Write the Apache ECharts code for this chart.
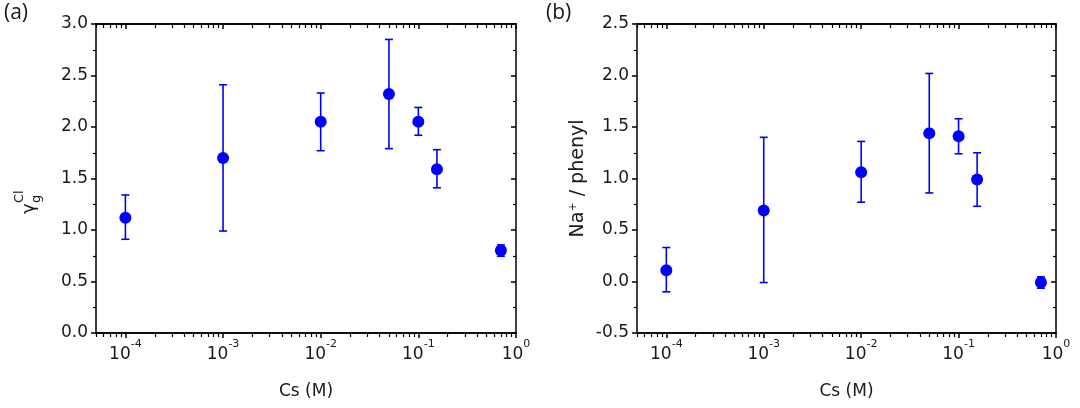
<!DOCTYPE html>
<html><head><meta charset="utf-8">
<script src="https://cdn.jsdelivr.net/npm/echarts@6/dist/echarts.min.js"></script>
<style>html,body{margin:0;padding:0;background:#fff}#c{width:1080px;height:408px}</style>
</head><body><div id="c"></div>
<script>
// ---- data ----
const cs = [1e-4, 1e-3, 1e-2, 0.05, 0.1, 0.155, 0.7];
const gammaVal = [1.12, 1.70, 2.05, 2.32, 2.05, 1.59, 0.80];
const gammaLo  = [0.91, 0.99, 1.77, 1.79, 1.92, 1.41, 0.745];
const gammaHi  = [1.34, 2.41, 2.33, 2.85, 2.19, 1.78, 0.855];
const naVal = [0.11, 0.69, 1.06, 1.44, 1.41, 0.99, -0.01];
const naLo  = [-0.10, -0.01, 0.77, 0.86, 1.24, 0.73, -0.065];
const naHi  = [0.33, 1.40, 1.36, 2.02, 1.58, 1.25, 0.045];
const xMajorTicks = [1e-4, 1e-3, 1e-2, 1e-1, 1];
const xMinorTicks = [5e-5, 6e-5, 7e-5, 8e-5, 9e-5,
  2e-4, 3e-4, 4e-4, 5e-4, 6e-4, 7e-4, 8e-4, 9e-4,
  2e-3, 3e-3, 4e-3, 5e-3, 6e-3, 7e-3, 8e-3, 9e-3,
  0.02, 0.03, 0.04, 0.05, 0.06, 0.07, 0.08, 0.09,
  0.2, 0.3, 0.4, 0.5, 0.6, 0.7, 0.8, 0.9];
const xMin = 5e-5, xMax = 1;
const gammaRange = [0, 3];
const naRange = [-0.5, 2.5];

const FONT = 'DejaVu Sans';
const TXT = '#1a1a1a';
const BLUE = '#0000ff';

function xBase(gi) {
  return {type: 'log', logBase: 10, min: xMin, max: xMax, gridIndex: gi,
    splitLine: {show: false},
    axisLine: {show: true, onZero: false, lineStyle: {color: '#000', width: 1.5}}};
}
function xAxes(gi) {
  return [
    Object.assign(xBase(gi), {position: 'bottom',
      name: 'Cs (M)', nameLocation: 'middle', nameGap: 50,
      nameTextStyle: {fontFamily: FONT, fontSize: 17, color: TXT},
      axisTick: {show: true, inside: false, length: 5, customValues: xMajorTicks, lineStyle: {color: '#000', width: 1.5}},
      axisLabel: {show: true, margin: 6, customValues: xMajorTicks,
        formatter: v => '{b|10}{s|' + Math.round(Math.log10(v)) + '}',
        rich: {b: {fontFamily: FONT, fontSize: 17, color: TXT, lineHeight: 24, verticalAlign: 'bottom'},
               s: {fontFamily: FONT, fontSize: 11, color: TXT, lineHeight: 12, verticalAlign: 'top'}}}}),
    Object.assign(xBase(gi), {position: 'top',
      axisTick: {show: true, inside: true, length: 5, customValues: xMajorTicks, lineStyle: {color: '#000', width: 1.5}},
      axisLabel: {show: true, color: 'rgba(0,0,0,0)', fontSize: 8}}),
    Object.assign(xBase(gi), {position: 'bottom',
      axisTick: {show: true, inside: false, length: 4, customValues: xMinorTicks.slice(), lineStyle: {color: '#000', width: 1.2}},
      axisLabel: {show: true, color: 'rgba(0,0,0,0)', fontSize: 8}}),
    Object.assign(xBase(gi), {position: 'top',
      axisTick: {show: true, inside: true, length: 4, customValues: xMinorTicks.slice(), lineStyle: {color: '#000', width: 1.2}},
      axisLabel: {show: true, color: 'rgba(0,0,0,0)', fontSize: 8}})
  ];
}

function yAxes(gi, rng, name) {
  const base = {type: 'value', min: rng[0], max: rng[1], interval: 0.5, gridIndex: gi,
    splitLine: {show: false},
    axisLine: {show: true, onZero: false, lineStyle: {color: '#000', width: 1.5}}};
  return [
    Object.assign({}, base, {position: 'left',
      name: name || '', nameLocation: 'middle', nameGap: 48, nameRotate: 90,
      nameTextStyle: {fontFamily: FONT, fontSize: 19, color: TXT,
        rich: {n: {fontFamily: FONT, fontSize: 19, color: TXT},
               s: {fontFamily: FONT, fontSize: 11, color: TXT, padding: [0, 0, 10, 0]}}},
      axisTick: {show: true, inside: false, length: 5, lineStyle: {color: '#000', width: 1.5}},
      minorTick: {show: true, splitNumber: 2, length: 3, lineStyle: {color: '#000', width: 1.2}},
      axisLabel: {show: true, margin: 8, fontFamily: FONT, fontSize: 17, color: TXT,
        formatter: v => v.toFixed(1)}}),
    Object.assign({}, base, {position: 'right',
      axisTick: {show: true, inside: true, length: 5, lineStyle: {color: '#000', width: 1.5}},
      minorTick: {show: true, splitNumber: 2, length: 3, lineStyle: {color: '#000', width: 1.2}},
      axisLabel: {show: false}})
  ];
}

function errItem(params, api) {
  const x = api.value(0), lo = api.value(2), hi = api.value(3);
  const pt = api.coord([x, hi]), pb = api.coord([x, lo]);
  const w = 4, st = {stroke: BLUE, lineWidth: 1.6};
  return {type: 'group', children: [
    {type: 'line', shape: {x1: pt[0], y1: pt[1], x2: pb[0], y2: pb[1]}, style: st},
    {type: 'line', shape: {x1: pt[0] - w, y1: pt[1], x2: pt[0] + w, y2: pt[1]}, style: st},
    {type: 'line', shape: {x1: pb[0] - w, y1: pb[1], x2: pb[0] + w, y2: pb[1]}, style: st}
  ]};
}

const gammaData = cs.map((x, i) => [x, gammaVal[i], gammaLo[i], gammaHi[i]]);
const naData = cs.map((x, i) => [x, naVal[i], naLo[i], naHi[i]]);

const option = {
  animation: false,
  backgroundColor: '#fff',
  grid: [
    {left: 96, top: 24, width: 420, height: 309, outerBoundsMode: 'none'},
    {left: 637, top: 24, width: 419, height: 309, outerBoundsMode: 'none'}
  ],
  xAxis: xAxes(0).concat(xAxes(1)),
  yAxis: yAxes(0, gammaRange, '').concat(yAxes(1, naRange, 'Na{s|+} / phenyl')),
  series: [
    {type: 'custom', xAxisIndex: 0, yAxisIndex: 0, renderItem: errItem, data: gammaData,
      encode: {x: 0, y: [2, 3]}, z: 2},
    {type: 'scatter', xAxisIndex: 0, yAxisIndex: 0, symbol: 'circle', symbolSize: 12,
      itemStyle: {color: BLUE, opacity: 1}, data: gammaData.map(d => [d[0], d[1]]), z: 3},
    {type: 'scatter', xAxisIndex: 2, yAxisIndex: 0, data: [[1e-3, 1]], symbolSize: 0, silent: true},
    {type: 'scatter', xAxisIndex: 3, yAxisIndex: 0, data: [[1e-3, 1]], symbolSize: 0, silent: true},
    {type: 'custom', xAxisIndex: 4, yAxisIndex: 2, renderItem: errItem, data: naData,
      encode: {x: 0, y: [2, 3]}, z: 2},
    {type: 'scatter', xAxisIndex: 4, yAxisIndex: 2, symbol: 'circle', symbolSize: 12,
      itemStyle: {color: BLUE, opacity: 1}, data: naData.map(d => [d[0], d[1]]), z: 3},
    {type: 'scatter', xAxisIndex: 6, yAxisIndex: 2, data: [[1e-3, 1]], symbolSize: 0, silent: true},
    {type: 'scatter', xAxisIndex: 7, yAxisIndex: 2, data: [[1e-3, 1]], symbolSize: 0, silent: true}
  ],
  graphic: [
    {type: 'text', left: 4, top: 3, style: {text: '(a)', font: '21px "Open Sans"', fill: TXT}},
    {type: 'text', left: 546, top: 3, style: {text: '(b)', font: '21px "Open Sans"', fill: TXT}},
    {type: 'group', x: 38, y: 214, rotation: Math.PI / 2, children: [
      {type: 'text', x: 0, y: 0, style: {text: 'γ', font: '18px "DejaVu Sans"', fill: TXT, textVerticalAlign: 'bottom'}},
      {type: 'text', x: 11, y: 5, style: {text: 'g', font: '13px "DejaVu Sans"', fill: TXT, textVerticalAlign: 'bottom'}},
      {type: 'text', x: 11, y: -12, style: {text: 'Cl', font: '13px "DejaVu Sans"', fill: TXT, textVerticalAlign: 'bottom'}}
    ]}
  ]
};
echarts.init(document.getElementById('c')).setOption(option);
</script></body></html>
